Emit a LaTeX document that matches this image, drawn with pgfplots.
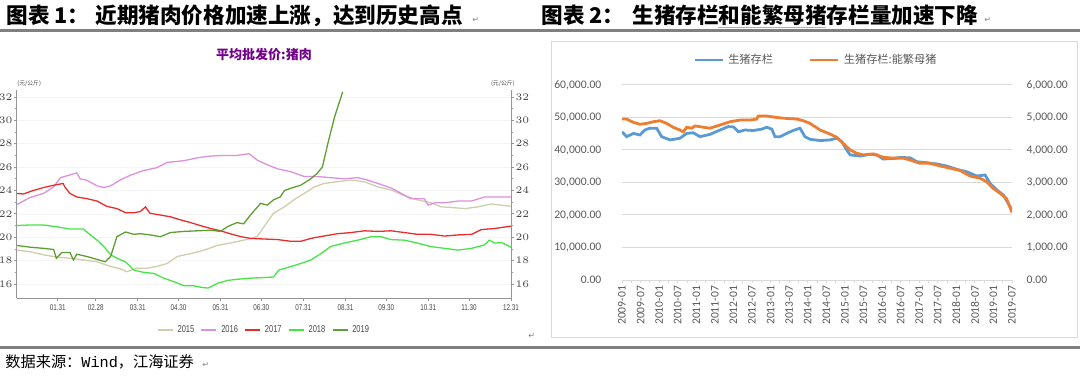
\documentclass[border=0pt]{standalone}
\usepackage{pgfplots}
\pgfplotsset{compat=1.18}
\usepackage{fontspec}
\setmainfont{Carlito}
\newfontfamily\cjk{Noto Sans CJK SC}
\newfontfamily\narrow{Liberation Sans}[FakeStretch=0.75]
\newfontfamily\dejavu{DejaVu Sans}
\newfontfamily\mono{Liberation Mono}
\definecolor{rulegray}{RGB}{128,128,128}
\definecolor{axgray}{RGB}{150,150,150}
\definecolor{tickgray}{RGB}{70,70,70}
\definecolor{xlgray}{RGB}{89,89,89}
\definecolor{gridc}{RGB}{217,217,217}
\definecolor{titlepurple}{RGB}{115,0,140}
\definecolor{c2015}{RGB}{208,204,172}
\definecolor{c2016}{RGB}{220,145,220}
\definecolor{c2017}{RGB}{232,45,45}
\definecolor{c2018}{RGB}{70,228,70}
\definecolor{c2019}{RGB}{95,158,50}
\definecolor{xblue}{RGB}{91,155,213}
\definecolor{xorange}{RGB}{237,125,49}
\begin{document}
\begin{tikzpicture}[x=1pt,y=1pt]
% ---------- titles and rules ----------
\node[anchor=base west,inner sep=0] at (3,176.3) {\cjk\bfseries\fontsize{10.8}{12}\selectfont 图表 1：};
\node[anchor=base west,inner sep=0] at (47.5,176.3) {\cjk\bfseries\fontsize{10.8}{12}\selectfont 近期猪肉价格加速上涨，达到历史高点};
\node[anchor=base west,inner sep=0,text=gray] at (236,177) {\dejavu\fontsize{4}{4}\selectfont ↵};
\node[anchor=base west,inner sep=0] at (270.5,176.3) {\cjk\bfseries\fontsize{10.8}{12}\selectfont 图表 2：};
\node[anchor=base west,inner sep=0] at (316,176.3) {\cjk\bfseries\fontsize{10.8}{12}\selectfont 生猪存栏和能繁母猪存栏量加速下降};
\node[anchor=base west,inner sep=0,text=gray] at (492,177) {\dejavu\fontsize{4}{4}\selectfont ↵};
\draw[draw={rgb,255:red,150;green,180;blue,225},line width=0.5pt] (359,174.2) -- (413,174.2);
\draw[draw=rulegray,line width=1.5pt] (0,173) -- (540,173);
\draw[draw=rulegray,line width=1.5pt] (0,14.3) -- (540,14.3);
\node[anchor=base west,inner sep=0] at (2.5,4.2) {\cjk\fontsize{7.6}{9}\selectfont 数据来源：{\mono Wind}，江海证券};
\node[anchor=base west,inner sep=0,text=gray] at (101,4.5) {\dejavu\fontsize{4}{4}\selectfont ↵};
\node[anchor=base west,inner sep=0,text=gray] at (264,19) {\dejavu\fontsize{4}{4}\selectfont ↵};
% ---------- left chart ----------
\node[text=titlepurple] at (132,160.5) {\cjk\bfseries\fontsize{6.5}{7}\selectfont 平均批发价:猪肉};
\node[anchor=west,inner sep=0,text=tickgray] at (8.5,146) {\cjk\fontsize{2.9}{3}\selectfont (元/公斤)};
\node[anchor=east,inner sep=0,text=tickgray] at (257.5,146) {\cjk\fontsize{2.9}{3}\selectfont (元/公斤)};
\begin{axis}[
  at={(8.5pt,39pt)}, anchor=south west, scale only axis,
  width=247pt, height=104pt,
  xmin=0, xmax=364, ymin=14.8, ymax=32.6,
  axis x line*=bottom, axis y line*=left,
  axis line style={-, draw=axgray, line width=0.5pt},
  xtick={30,58,89,119,150,180,211,242,272,303,333,364},
  xticklabels={01.31,02.28,03.31,04.30,05.31,06.30,07.31,08.31,09.30,10.31,11.30,12.31},
  minor x tick num=2,
  ytick={16,18,...,32}, minor y tick num=1,
  tick align=outside, tick style={draw=axgray, line width=0.4pt},
  major tick length=1.6pt, minor tick length=1pt,
  ymajorgrids, grid style={draw=gray!8, line width=0.3pt},
  tick label style={font=\narrow\fontsize{4.2}{5}\selectfont, text=tickgray},
  yticklabel style={inner xsep=0.5pt},
  xticklabel style={inner ysep=1.5pt},
  legend style={at={(0.502,-0.154)}, anchor=center, draw=none, fill=none,
    legend columns=5, font=\narrow\fontsize{5}{6}\selectfont, text=tickgray,
    inner sep=0pt,
    /tikz/every even column/.append style={column sep=1.2pt}},
  legend image code/.code={\draw[#1, line width=0.8pt] (0pt,0pt) -- (7.5pt,0pt);},
  legend cell align=left,
]
\addplot[c2015, line width=0.65pt] coordinates {(0,18.9)(10,18.75)(19.5,18.5)(29,18.3)(39,18.2)(49,18.05)(59,17.9)(69,17.5)(76,17.3)(81,17.05)(88,17.35)(96,17.35)(103,17.5)(110.6,17.75)(118,18.35)(128,18.6)(138,18.9)(147.5,19.3)(157,19.5)(167,19.75)(177,20.05)(182,20.9)(189,22.05)(197,22.6)(204,23.2)(211.6,23.75)(219,24.3)(226,24.6)(236,24.75)(246,24.9)(256,24.75)(266,24.3)(275.6,24.05)(285.5,23.55)(295,23.2)(305,22.95)(312.6,22.6)(320,22.55)(330,22.45)(339.6,22.6)(349.5,22.85)(364,22.65)};
\addlegendentry{2015}
\addplot[c2016, line width=0.65pt] coordinates {(0,22.8)(9.6,23.4)(19.5,23.75)(27,24.3)(32,25.1)(38,25.3)(44,25.5)(46.5,25.0)(51,24.9)(59,24.4)(64,24.25)(69,24.4)(76,24.9)(83.5,25.3)(93,25.7)(103,25.95)(110.6,26.4)(123,26.55)(133,26.8)(142.6,26.95)(152,27.0)(162,27.0)(171,27.15)(177,26.6)(184.5,26.2)(192,25.85)(202,25.6)(211.6,25.2)(221,25.2)(231,25.1)(241,25.0)(251,25.1)(258,24.9)(266,24.6)(276,24.2)(285.5,23.6)(290,23.3)(300,23.3)(303,22.75)(308,22.95)(315,22.95)(325,23.1)(335,23.1)(344.6,23.45)(354,23.45)(364,23.45)};
\addlegendentry{2016}
\addplot[c2017, line width=0.65pt] coordinates {(0,23.75)(4.7,23.7)(12,24.0)(19.5,24.25)(27,24.45)(34,24.6)(35.5,24.25)(39,23.75)(44,23.45)(51.5,23.3)(59,23.1)(66,22.65)(73.6,22.45)(80,22.1)(86,22.1)(91,22.2)(94.6,22.6)(98,22.05)(105.7,21.9)(113,21.75)(120,21.5)(128,21.25)(135,21.0)(142.6,20.75)(150,20.55)(157,20.3)(165,20.05)(172,19.9)(182,19.85)(192,19.8)(202,19.65)(209,19.65)(216.5,19.9)(226,20.1)(236,20.3)(246,20.4)(256,20.55)(266,20.5)(275.6,20.55)(285.5,20.4)(295,20.25)(305,20.25)(315,20.1)(325,20.2)(335,20.25)(342,20.65)(352,20.75)(364,20.95)};
\addlegendentry{2017}
\addplot[c2018, line width=0.65pt] coordinates {(0,21.0)(9.6,21.05)(19.5,21.05)(29,20.9)(39,20.7)(49,20.7)(54,20.2)(59,19.75)(64,19.2)(69,18.5)(73.6,18.2)(80,17.9)(86,17.2)(93,17.0)(101,16.9)(108,16.5)(115.5,16.2)(123,15.85)(130,15.85)(136.5,15.7)(141,15.65)(147.5,16.05)(155,16.3)(162,16.4)(172,16.5)(182,16.55)(189,16.6)(193,17.2)(202,17.5)(209,17.75)(216.5,18.05)(224,18.6)(231,19.2)(241,19.5)(251,19.75)(261,20.05)(268,20.05)(275.6,19.8)(285.5,19.75)(295,19.5)(305,19.2)(315,19.05)(325,18.9)(335,19.05)(344.6,19.35)(348,19.75)(352,19.5)(357,19.55)(364,19.15)};
\addlegendentry{2018}
\addplot[c2019, line width=0.65pt] coordinates {(0,19.3)(9.6,19.15)(19.5,19.05)(27,18.95)(29,18.2)(33,18.7)(39,18.7)(41.6,18.05)(44,18.55)(51.5,18.35)(59,18.1)(65,17.9)(69,18.35)(73.6,20.05)(80,20.45)(86,20.25)(91,20.3)(98,20.2)(105.7,20.05)(113,20.4)(123,20.5)(133,20.55)(142.6,20.6)(150,20.5)(155,20.9)(162,21.25)(167,21.15)(172,21.9)(179.5,22.9)(184.5,22.75)(189,23.2)(194,23.45)(197,24.0)(202,24.2)(209,24.45)(216.5,25.0)(221,25.45)(225,26.0)(229,28.0)(234,30.3)(240,32.45)};
\addlegendentry{2019}
\end{axis}
\begin{axis}[
  at={(8.5pt,39pt)}, anchor=south west, scale only axis,
  width=247pt, height=104pt,
  xmin=0, xmax=364, ymin=14.8, ymax=32.6,
  axis x line=none, axis y line*=right,
  axis line style={-, draw=axgray, line width=0.5pt},
  ytick={16,18,...,32}, minor y tick num=1,
  tick align=outside, tick style={draw=axgray, line width=0.4pt},
  major tick length=1.6pt, minor tick length=1pt,
  tick label style={font=\narrow\fontsize{4.2}{5}\selectfont, text=tickgray},
  yticklabel style={inner xsep=0.5pt},
]
\end{axis}
% ---------- right chart ----------
\draw[draw=gridc, line width=0.5pt] (275.5,19.5) rectangle (538.5,167.5);
\begin{axis}[
  at={(311pt,48pt)}, anchor=south west, scale only axis,
  width=195pt, height=97.5pt,
  xmin=0, xmax=126, ymin=0, ymax=60000,
  scaled y ticks=false,
  axis x line*=bottom, axis y line*=left,
  x axis line style={-, draw=gridc, line width=0.5pt},
  y axis line style={draw=none},
  ytick={0,10000,...,60000},
  yticklabels={0.00,{10,000.00},{20,000.00},{30,000.00},{40,000.00},{50,000.00},{60,000.00}},
  ytick style={draw=none},
  xtick={0,6,...,126},
  xticklabels={2009-01,2009-07,2010-01,2010-07,2011-01,2011-07,2012-01,2012-07,2013-01,2013-07,2014-01,2014-07,2015-01,2015-07,2016-01,2016-07,2017-01,2017-07,2018-01,2018-07,2019-01,2019-07},
  minor x tick num=1,
  xtick style={draw=gridc, line width=0.5pt},
  tick align=outside, major tick length=1.6pt, minor tick length=1.6pt,
  ymajorgrids, grid style={draw=gridc, line width=0.5pt},
  tick label style={font=\fontsize{5.8}{7}\selectfont, text=xlgray},
  yticklabel style={xshift=-5.2pt},
  xticklabel style={rotate=90, anchor=east, inner sep=1.2pt},
  legend style={at={(0.5,1.128)}, anchor=center, draw=none, fill=none,
    legend columns=2, font=\cjk\fontsize{5.6}{7}\selectfont, text=xlgray,
    inner sep=0pt,
    /tikz/every even column/.append style={column sep=16pt}},
  legend image code/.code={\draw[#1, line width=1.4pt] (0pt,0pt) -- (14pt,0pt);},
]
\addplot[xblue, line width=1.4pt] coordinates {(0,45600)(1.5,44100)(3.7,45100)(5.8,44600)(7.4,46150)(9,46700)(11.2,46700)(12.8,44100)(15.5,43100)(18.7,43600)(20.9,45100)(23,45300)(25.2,44100)(28.4,44800)(31.7,46150)(34.3,47200)(36,47100)(37.6,45600)(39.7,46150)(42.4,46000)(45.1,46400)(46.8,47000)(48.4,46400)(49.4,44100)(51.1,44100)(53.2,45100)(55.3,46000)(57.5,46700)(59.1,44100)(60.7,43300)(64,42900)(67.2,43100)(69.4,43600)(71,42600)(72.6,40000)(73.7,38500)(76.9,38150)(80.1,38650)(82.3,38500)(84.4,37230)(87.7,37400)(89.8,37700)(93.1,37600)(95.2,36400)(98.4,36100)(101.7,35700)(104.9,35080)(108.1,34050)(111.4,33300)(114.6,32000)(117.3,32300)(118.9,29750)(121.1,27700)(123.2,26150)(126,21500)};
\addlegendentry{生猪存栏}
\addlegendimage{xorange}
\addlegendentry{生猪存栏:能繁母猪}
\end{axis}
\begin{axis}[
  at={(311pt,48pt)}, anchor=south west, scale only axis,
  width=195pt, height=97.5pt,
  xmin=0, xmax=126, ymin=0, ymax=6000,
  scaled y ticks=false,
  axis x line=none, axis y line*=right,
  y axis line style={draw=none},
  ytick={0,1000,...,6000},
  yticklabels={0.00,{1,000.00},{2,000.00},{3,000.00},{4,000.00},{5,000.00},{6,000.00}},
  ytick style={draw=none},
  tick label style={font=\fontsize{5.8}{7}\selectfont, text=xlgray},
  yticklabel style={xshift=3.8pt},
]
\addplot[xorange, line width=1.4pt] coordinates {(0,4954)(1.5,4950)(3.7,4850)(5.8,4790)(8,4820)(10.1,4870)(12.3,4900)(14.4,4820)(16.5,4700)(18.7,4615)(19.8,4560)(20.9,4700)(22.5,4670)(23.6,4740)(26.3,4700)(28.4,4670)(31.7,4770)(34.9,4870)(38.1,4920)(41.4,4920)(43.5,4950)(44,5045)(46.8,5045)(50,5000)(53.2,4970)(56.4,4954)(58.6,4900)(60.7,4820)(64,4615)(67.2,4490)(69.4,4390)(71.5,4200)(73.7,4000)(75.8,3900)(78,3850)(81.2,3880)(84.4,3775)(87.7,3750)(90.9,3750)(93.1,3690)(96.3,3590)(99.5,3590)(102.7,3510)(106,3440)(109.2,3370)(112.4,3200)(115.7,3130)(117.8,3025)(119.9,2820)(122.1,2670)(124.2,2510)(126,2080)};
\end{axis}
\pgfresetboundingbox
\path (0,0) rectangle (540,188);
\end{tikzpicture}
\end{document}
